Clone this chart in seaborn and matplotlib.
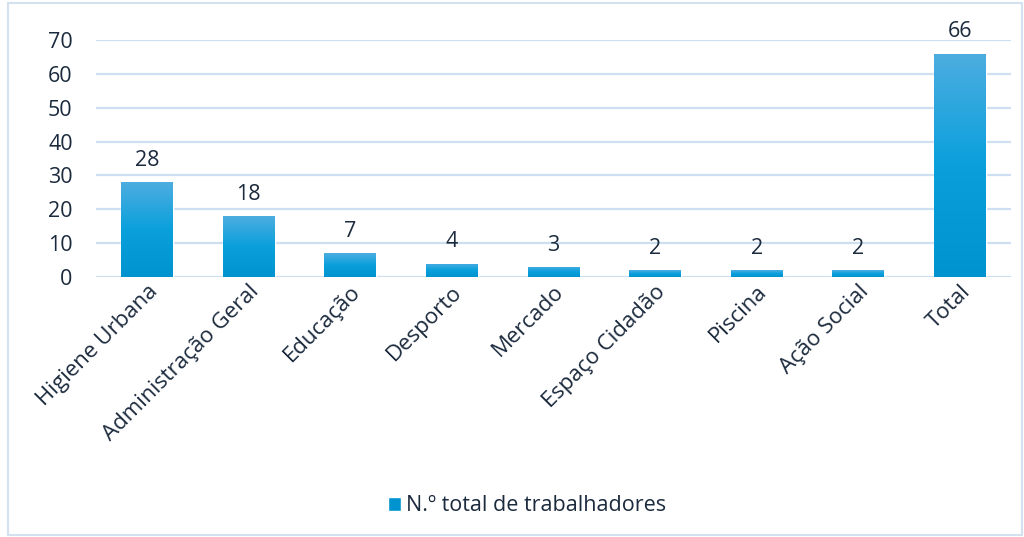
import matplotlib.pyplot as plt
import matplotlib.colors as mcolors
from matplotlib.patches import Rectangle
import seaborn as sns
import numpy as np
import pandas as pd

# data
categories = ["Higiene Urbana", "Administração Geral", "Educação", "Desporto",
              "Mercado", "Espaço Cidadão", "Piscina", "Ação Social", "Total"]
workers = [28, 18, 7, 4, 3, 2, 2, 2, 66]
series_name = "N.º total de trabalhadores"
yticks = [0, 10, 20, 30, 40, 50, 60, 70]

sns.set_theme(style="white")
plt.rcParams['font.family'] = ['Open Sans', 'DejaVu Sans']

text_col = "#1b2a3d"
grid_col = "#cfdff2"
top_col = "#4dade0"
bot_col = "#0093cf"

df = pd.DataFrame({"Categoria": categories, "Valor": workers})

fig = plt.figure(figsize=(10.24, 5.37), dpi=100)
ax = fig.add_axes([0.094, 0.484, 0.893, 0.4415])

sns.barplot(data=df, x="Categoria", y="Valor", color=bot_col, width=0.51,
            ax=ax, zorder=3)

ax.set_ylim(0, 70)
ax.set_xlim(-0.5, len(categories) - 0.5)
ax.set_yticks(yticks)
ax.set_xlabel("")
ax.set_ylabel("")
for s in ax.spines.values():
    s.set_visible(False)
ax.grid(axis="y", color=grid_col, linewidth=1.6, zorder=0)
ax.tick_params(axis="y", length=0, pad=17, labelsize=15.5, labelcolor=text_col)
ax.tick_params(axis="x", length=0, pad=3, labelsize=16, labelcolor=text_col)
plt.setp(ax.get_xticklabels(), rotation=45, ha="right", rotation_mode="anchor")

# vertical gradient in each bar
cmap = mcolors.LinearSegmentedColormap.from_list("grad", [bot_col, "#0aa0dc", top_col])
grad = np.linspace(0, 1, 256).reshape(-1, 1)
for p in ax.patches:
    x0, y0 = p.get_x(), p.get_y()
    w, h = p.get_width(), p.get_height()
    im = ax.imshow(grad, cmap=cmap, origin="lower", aspect="auto",
                   extent=(x0, x0 + w, y0, y0 + h), zorder=4)
    im.set_clip_path(p)
    ax.annotate(f"{int(h)}", (x0 + w / 2, h), xytext=(0, 8),
                textcoords="offset points", ha="center", va="bottom",
                fontsize=15.5, color=text_col)
ax.set_xlim(-0.5, len(categories) - 0.5)
ax.set_ylim(0, 70)

# legend
handle = Rectangle((0, 0), 1, 1, facecolor=bot_col)
fig.legend([handle], [series_name], loc="center", bbox_to_anchor=(0.515, 0.058),
           frameon=False, fontsize=15.5, handlelength=0.6, handleheight=0.6,
           handletextpad=0.25, labelcolor=text_col)

# chart border
fig.patches.append(Rectangle((0.008, 0.004), 0.99, 0.99, transform=fig.transFigure,
                             fill=False, edgecolor="#d3e1f1", linewidth=1.5))

fig.savefig("out.png", dpi=100)
